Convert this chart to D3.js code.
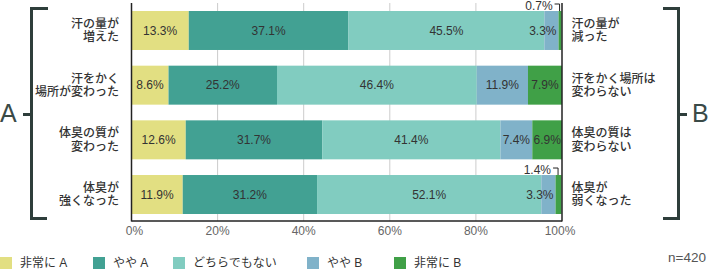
<!DOCTYPE html>
<html><head><meta charset="utf-8">
<script src="https://cdn.jsdelivr.net/npm/d3@7"></script>
<style>
body{margin:0;background:#fff;}
svg{display:block;font-family:"Liberation Sans","Noto Sans CJK JP",sans-serif;}
</style></head>
<body><svg id="c" width="708" height="270"></svg>
<script>
const leftLabels = [["汗の量が","増えた"],["汗をかく","場所が変わった"],["体臭の質が","変わった"],["体臭が","強くなった"]];
const rightLabels = [["汗の量が","減った"],["汗をかく場所は","変わらない"],["体臭の質は","変わらない"],["体臭が","弱くなった"]];
const seriesNames = ["非常に A","やや A","どちらでもない","やや B","非常に B"];
const veryA = [13.3, 8.6, 12.6, 11.9];
const someA = [37.1, 25.2, 31.7, 31.2];
const neither = [45.5, 46.4, 41.4, 52.1];
const someB = [3.3, 11.9, 7.4, 3.3];
const veryB = [0.7, 7.9, 6.9, 1.4];
const tickValues = [0, 20, 40, 60, 80, 100];
const colors = ["#e2df82","#42a193","#81ccc0","#80b2c9","#40a047"];
const sampleNote = "n=420";

const svg = d3.select("#c");
const x = d3.scaleLinear().domain([0,100]).range([131.5, 562]);
const idx = leftLabels.map((d,i)=>i);
const y = d3.scaleBand().domain(idx).range([11, 214]).paddingInner(0.287).paddingOuter(0);
const seriesArrays = [veryA, someA, neither, someB, veryB];
const rows = idx.map(i => { const o = {i}; seriesArrays.forEach((a,k)=>o["s"+k]=a[i]); return o; });
const keys = seriesArrays.map((a,k)=>"s"+k);
const stack = d3.stack().keys(keys)(rows);

// gridlines
const plotTop = 3, plotBottom = 221;
svg.append("g").selectAll("line").data([20,40,60,80]).join("line")
  .attr("x1",d=>x(d)).attr("x2",d=>x(d)).attr("y1",plotTop).attr("y2",plotBottom)
  .attr("stroke","#cccccc").attr("stroke-width",1);

// bars
const g = svg.append("g");
stack.forEach((layer,k)=>{
  g.selectAll(null).data(layer).join("rect")
    .attr("x",d=>x(d[0])).attr("width",d=>x(d[1])-x(d[0]))
    .attr("y",d=>y(d.data.i)).attr("height",y.bandwidth())
    .attr("fill",colors[k]);
});

// frame
svg.append("line").attr("x1",x(0)).attr("x2",x(0)).attr("y1",plotTop).attr("y2",plotBottom+0.5).attr("stroke","#222").attr("stroke-width",1.5);
svg.append("line").attr("x1",x(100)).attr("x2",x(100)).attr("y1",plotTop).attr("y2",plotBottom+0.5).attr("stroke","#222").attr("stroke-width",1.5);
svg.append("line").attr("x1",x(0)).attr("x2",x(100)).attr("y1",plotBottom).attr("y2",plotBottom).attr("stroke","#222").attr("stroke-width",1.5);

// value labels
stack.forEach((layer,k)=>{
  layer.forEach(d=>{
    const v = d[1]-d[0];
    const x0 = x(d[0]), x1 = x(d[1]);
    const yc = y(d.data.i) + y.bandwidth()/2;
    const label = v.toFixed(1) + "%";
    if (v < 1.5) {
      const lx = (x0+x1)/2 - 0.5;
      const ly = y(d.data.i) - 5.5;
      svg.append("text").attr("x", lx-7).attr("y", ly).attr("dy","0.35em")
        .attr("text-anchor","end").attr("font-size",12).attr("fill","#333").text(label);
      svg.append("path").attr("d",`M${lx-5},${ly-1.5}H${lx}V${y(d.data.i)}`)
        .attr("fill","none").attr("stroke","#222").attr("stroke-width",1);
      return;
    }
    const t = svg.append("text").attr("y", yc).attr("dy","0.35em")
      .attr("font-size",12).attr("fill","#333").text(label);
    const w = t.node().getComputedTextLength();
    if (w > (x1-x0) - 2) t.attr("x", x1-2).attr("text-anchor","end");
    else t.attr("x",(x0+x1)/2).attr("text-anchor","middle");
  });
});

// category labels
function catLabels(arr, xPos, anchor){
  arr.forEach((lines,i)=>{
    const yc = y(i)+y.bandwidth()/2;
    lines.forEach((s,j)=>{
      svg.append("text").attr("x",xPos).attr("y", yc + (j-0.5)*13.5).attr("dy","0.35em")
        .attr("text-anchor",anchor).attr("font-size",12).attr("font-weight",500).attr("fill","#333")
        .attr("font-family","Noto Sans CJK JP").text(s);
    });
  });
}
catLabels(leftLabels, 119, "end");
catLabels(rightLabels, 571.5, "start");

// x axis tick labels
svg.append("g").selectAll("text").data(tickValues).join("text")
  .attr("x",d=>x(d)+ (d===0?3:(d===100?-2:0))).attr("y",231).attr("dy","0.35em")
  .attr("text-anchor","middle").attr("font-size",12).attr("fill","#666")
  .text(d=>d+"%");

// brackets
const bc = "#2e3e3b";
svg.append("path").attr("d","M48,8.5H31.5V218.5H47").attr("fill","none").attr("stroke",bc).attr("stroke-width",3);
svg.append("path").attr("d","M23,114.5H31.5").attr("fill","none").attr("stroke",bc).attr("stroke-width",3);
svg.append("text").attr("x",0).attr("y",113).attr("dy","0.35em").attr("font-size",25).attr("fill","#3a4a47")
  .attr("font-family","Liberation Sans").text("A");
svg.append("path").attr("d","M663,8.5H678.5V218.5H663").attr("fill","none").attr("stroke",bc).attr("stroke-width",3);
svg.append("path").attr("d","M678.5,114.5H687").attr("fill","none").attr("stroke",bc).attr("stroke-width",3);
svg.append("text").attr("x",692).attr("y",113).attr("dy","0.35em").attr("font-size",25).attr("fill","#3a4a47")
  .attr("font-family","Liberation Sans").text("B");

// legend
const legX = [0, 93, 173, 307, 394];
seriesNames.forEach((n,k)=>{
  svg.append("rect").attr("x",legX[k]).attr("y",257).attr("width",12).attr("height",12).attr("fill",colors[k]);
  svg.append("text").attr("x",legX[k]+20).attr("y",263).attr("dy","0.35em").attr("font-size",12)
    .attr("fill","#333").text(n);
});
svg.append("text").attr("x",706).attr("y",257.5).attr("dy","0.35em").attr("text-anchor","end")
  .attr("font-size",13.5).attr("fill","#555").text(sampleNote);
</script></body></html>
